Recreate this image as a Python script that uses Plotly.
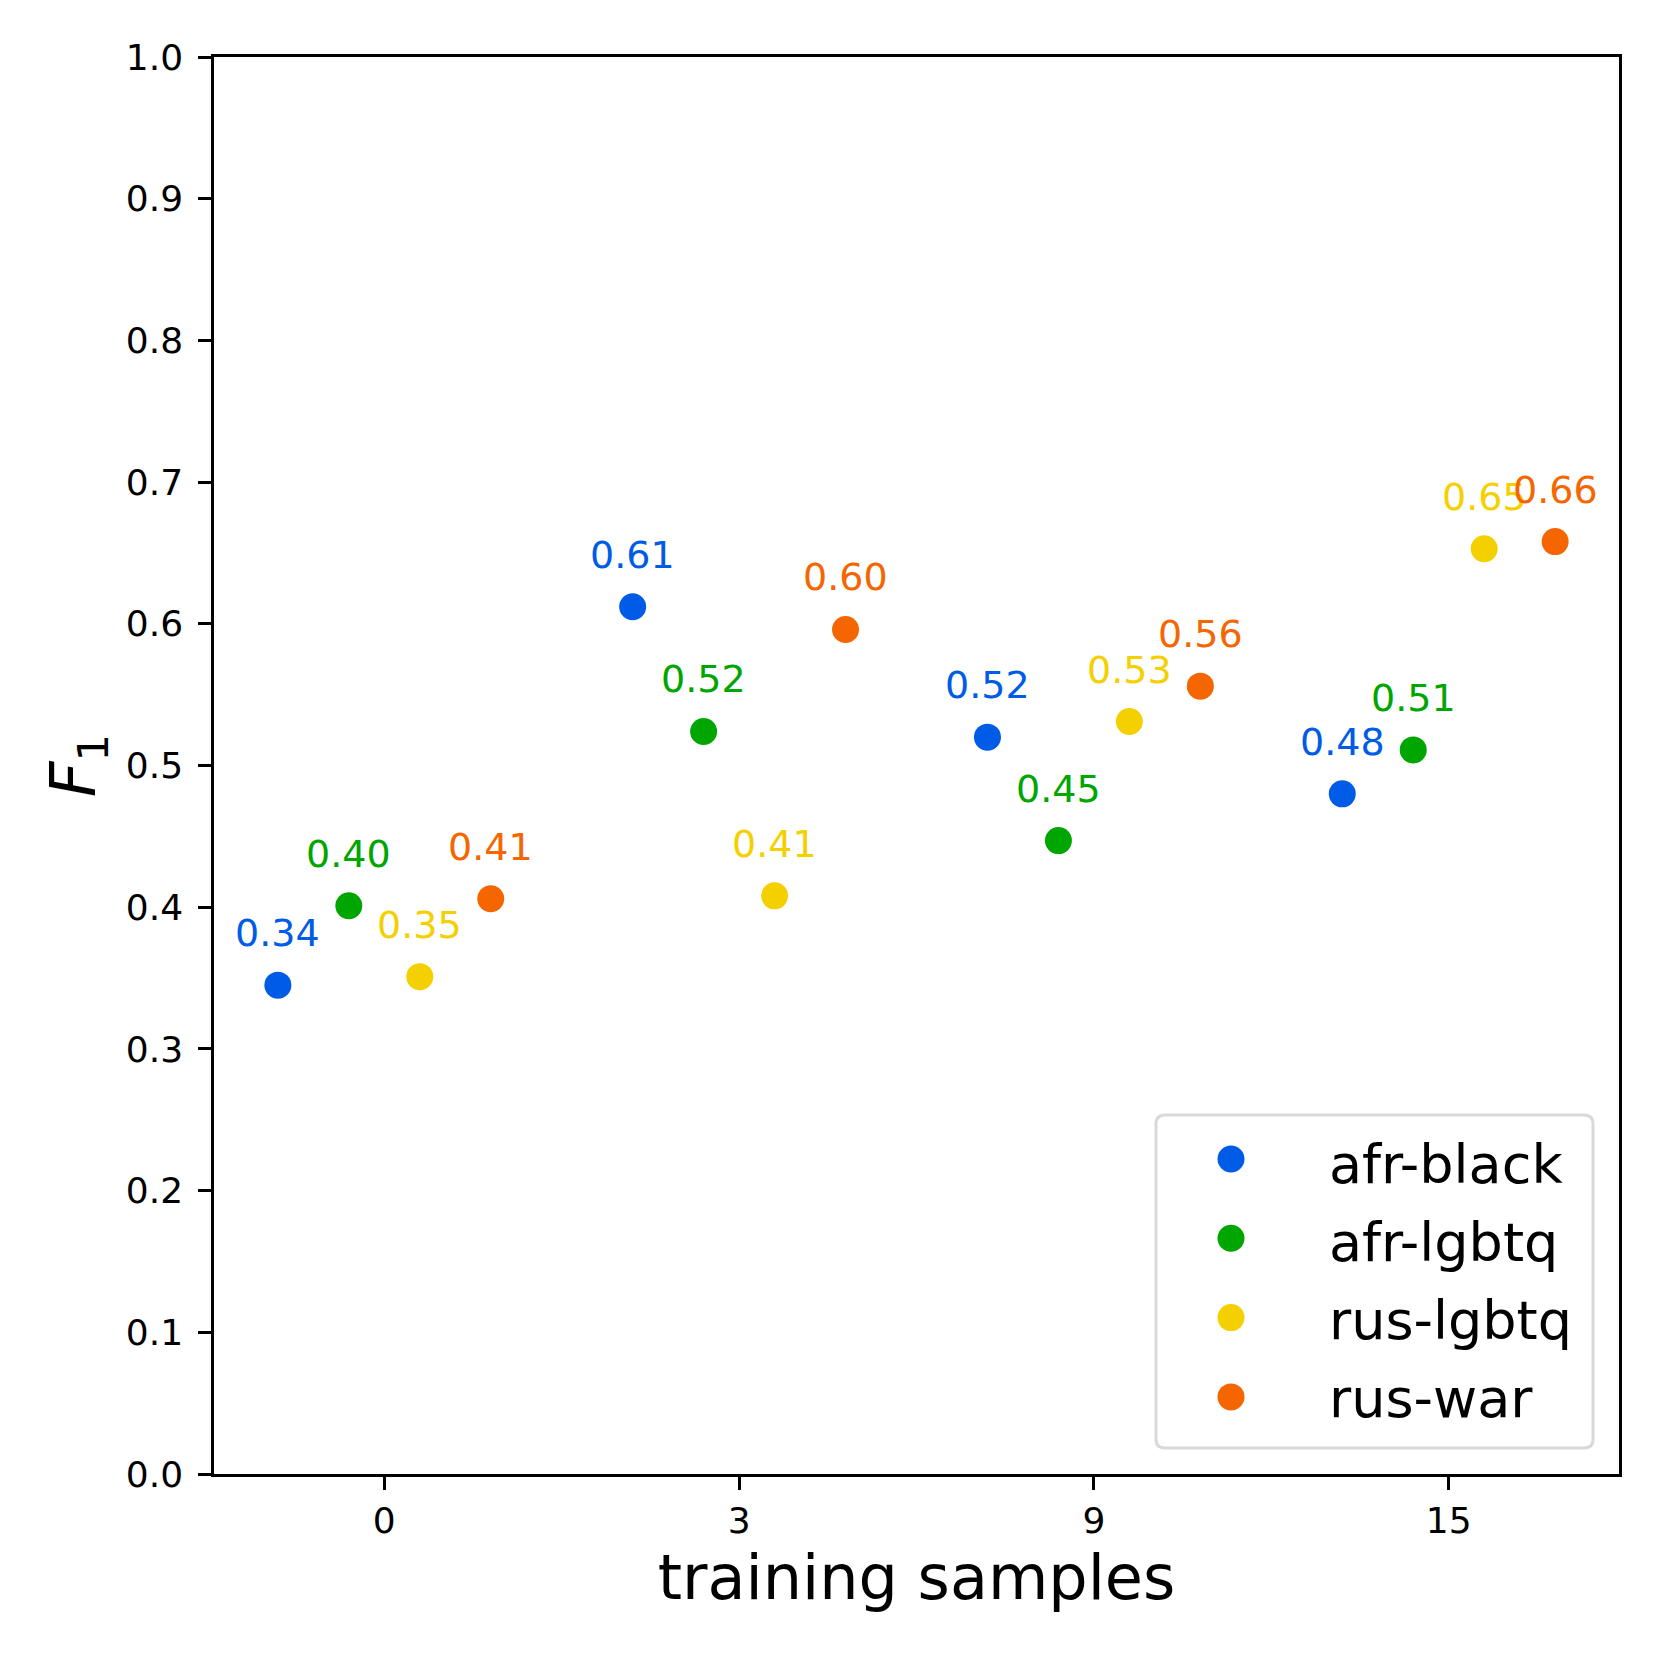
import plotly.graph_objects as go

# ---- data ----
x_labels = ["0", "3", "9", "15"]
series_names = ["afr-black", "afr-lgbtq", "rus-lgbtq", "rus-war"]
afr_black = [0.345, 0.612, 0.520, 0.480]
afr_lgbtq = [0.401, 0.524, 0.447, 0.511]
rus_lgbtq = [0.351, 0.408, 0.531, 0.653]
rus_war = [0.406, 0.596, 0.556, 0.658]
afr_black_labels = ["0.34", "0.61", "0.52", "0.48"]
afr_lgbtq_labels = ["0.40", "0.52", "0.45", "0.51"]
rus_lgbtq_labels = ["0.35", "0.41", "0.53", "0.65"]
rus_war_labels = ["0.41", "0.60", "0.56", "0.66"]

series_values = [afr_black, afr_lgbtq, rus_lgbtq, rus_war]
series_labels = [afr_black_labels, afr_lgbtq_labels, rus_lgbtq_labels, rus_war_labels]
colors = ["#005ce6", "#00a600", "#f5d000", "#f56600"]
offsets = [-0.3, -0.1, 0.1, 0.3]

FONT = "DejaVu Sans"
W = H = 1661
# page offset of the html body is ~8px, compensate in margins
L, R, T, B = 206, 50, 49, 195
PL, PT = 214, 57  # plot area left/top in page pixels
pw = W - L - R
ph = H - T - B

def px2x(p):
    return (p - PL) / pw

def py2y(p):
    return (PT + ph - p) / ph

fig = go.Figure()
annotations = []
for i, name in enumerate(series_names):
    xs = [j + offsets[i] for j in range(len(x_labels))]
    fig.add_trace(go.Scatter(
        x=xs, y=series_values[i], mode="markers", name=name,
        marker=dict(color=colors[i], size=27, line=dict(width=0)),
        legendgroup=name,
    ))
    for xv, yv, lab in zip(xs, series_values[i], series_labels[i]):
        annotations.append(dict(
            x=xv, y=yv, xref="x", yref="y", text=lab, showarrow=False,
            yanchor="bottom", xanchor="center", yshift=28,
            font=dict(family=FONT, size=38, color=colors[i]),
        ))

# rounded legend frame
x0, x1, y0, y1 = px2x(1156), px2x(1593), py2y(1448), py2y(1115)
rx, ry = 9 / pw, 9 / ph
path = (f"M {x0+rx},{y0} L {x1-rx},{y0} Q {x1},{y0} {x1},{y0+ry} "
        f"L {x1},{y1-ry} Q {x1},{y1} {x1-rx},{y1} L {x0+rx},{y1} "
        f"Q {x0},{y1} {x0},{y1-ry} L {x0},{y0+ry} Q {x0},{y0} {x0+rx},{y0} Z")
shapes = [dict(type="path", path=path, xref="paper", yref="paper",
               line=dict(color="#d9d9d9", width=3), fillcolor="rgba(255,255,255,0.8)",
               layer="above")]
# enlarged legend symbols (plotly caps legend marker size)
row0, row_step, mx, mr = 1159, 79.3, 1231, 13.5
for i in range(len(series_names)):
    cy = row0 + row_step * i
    shapes.append(dict(type="circle", xref="paper", yref="paper",
                       x0=px2x(mx - mr), x1=px2x(mx + mr), y0=py2y(cy + mr), y1=py2y(cy - mr),
                       fillcolor=colors[i], line=dict(width=0), layer="above"))

fig.update_layout(
    width=W, height=H,
    margin=dict(l=L, r=R, t=T, b=B),
    paper_bgcolor="white", plot_bgcolor="white",
    font=dict(family=FONT, color="black"),
    annotations=annotations,
    shapes=shapes,
    legend=dict(
        x=px2x(1133), y=py2y(1120), xanchor="left", yanchor="top",
        bgcolor="rgba(0,0,0,0)", borderwidth=0,
        font=dict(family=FONT, size=54, color="black"),
        itemwidth=186, tracegroupgap=5,
    ),
    showlegend=True,
)
fig.update_xaxes(
    range=[-0.48, 3.48], tickmode="array", tickvals=list(range(len(x_labels))),
    ticktext=x_labels, showgrid=False, zeroline=False,
    showline=True, linecolor="black", linewidth=2.5, mirror=True,
    ticks="outside", ticklen=13, tickwidth=2.5, tickcolor="black",
    tickfont=dict(family=FONT, size=36, color="black"),
    title=dict(text="training samples", font=dict(family=FONT, size=62, color="black"), standoff=16),
)
fig.update_yaxes(
    range=[0, 1.0], tickmode="array", tickvals=[i / 10 for i in range(11)],
    ticktext=[f"{i/10:.1f}" for i in range(11)], showgrid=False, zeroline=False,
    showline=True, linecolor="black", linewidth=2.5, mirror=True,
    ticks="outside", ticklen=13, tickwidth=2.5, tickcolor="black",
    tickfont=dict(family=FONT, size=36, color="black"), ticklabelstandoff=8,
    title=dict(text="<i>F</i><sub>1</sub>", font=dict(family=FONT, size=62, color="black"), standoff=11),
)
fig.write_html("out.html")
